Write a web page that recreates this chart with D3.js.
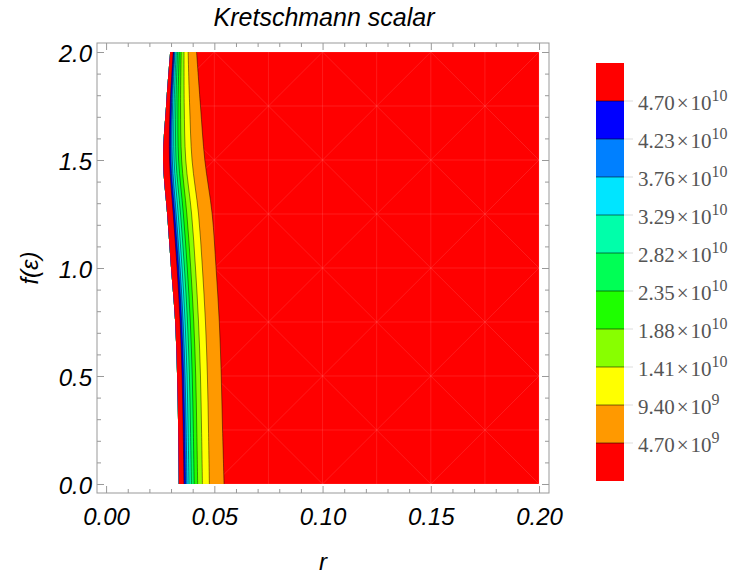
<!DOCTYPE html>
<html>
<head>
<meta charset="utf-8">
<script src="https://cdn.jsdelivr.net/npm/d3@7"></script>
<style>
body { margin: 0; background: #fff; }
svg { font-family: "Liberation Sans", Arial, sans-serif; }
</style>
</head>
<body>
<svg id="chart" width="750" height="580"></svg>
<script>
const fSamples = [0, 0.25, 0.5, 0.75, 1.0, 1.25, 1.5, 1.75, 2.0];

// left edge of the computed region (white to the left of it)
const edgeR = [0.0336, 0.0333, 0.0328, 0.0319, 0.0300, 0.0282, 0.0263, 0.0277, 0.0296];

// r position of each contour line, one array per level
const rLevel1  = [0.0545, 0.0538, 0.0532, 0.0523, 0.0508, 0.0490, 0.0456, 0.0436, 0.0418]; // 4.70e9
const rLevel2  = [0.0477, 0.0473, 0.0468, 0.0459, 0.0445, 0.0427, 0.0397, 0.0386, 0.0379]; // 9.40e9
const rLevel3  = [0.0445, 0.0441, 0.0436, 0.0427, 0.0413, 0.0395, 0.0368, 0.0361, 0.0360]; // 1.41e10
const rLevel4  = [0.0423, 0.0419, 0.0414, 0.0405, 0.0391, 0.0373, 0.0349, 0.0344, 0.0347]; // 1.88e10
const rLevel5  = [0.0407, 0.0403, 0.0398, 0.0389, 0.0375, 0.0357, 0.0335, 0.0332, 0.0338]; // 2.35e10
const rLevel6  = [0.0394, 0.0390, 0.0385, 0.0376, 0.0362, 0.0344, 0.0323, 0.0322, 0.0330]; // 2.82e10
const rLevel7  = [0.0383, 0.0379, 0.0374, 0.0365, 0.0351, 0.0333, 0.0314, 0.0314, 0.0324]; // 3.29e10
const rLevel8  = [0.0374, 0.0370, 0.0365, 0.0356, 0.0342, 0.0324, 0.0306, 0.0307, 0.0318]; // 3.76e10
const rLevel9  = [0.0367, 0.0363, 0.0358, 0.0349, 0.0335, 0.0317, 0.0299, 0.0302, 0.0314]; // 4.23e10
const rLevel10 = [0.0360, 0.0356, 0.0351, 0.0342, 0.0328, 0.0310, 0.0293, 0.0296, 0.0310]; // 4.70e10

const rMax = 0.2;

const levelValues = [4.70e9, 9.40e9, 1.41e10, 1.88e10, 2.35e10, 2.82e10, 3.29e10, 3.76e10, 4.23e10, 4.70e10];

// lowest band first
const bandColors = ["#ff0000", "#ff9900", "#ffff00", "#88ff00", "#1eff00", "#00ff55",
                    "#00ffaa", "#00e5ff", "#0080ff", "#0000ff", "#ff0000"];

const xTicks = [0, 0.05, 0.10, 0.15, 0.20];
const yTicks = [0, 0.5, 1.0, 1.5, 2.0];

const svg = d3.select("#chart");

const x = d3.scaleLinear().domain([-0.0042, 0.2046]).range([97, 549]);
const y = d3.scaleLinear().domain([-0.0417, 2.0417]).range([493, 43]);

const levels = [rLevel1, rLevel2, rLevel3, rLevel4, rLevel5, rLevel6, rLevel7, rLevel8, rLevel9, rLevel10];

// bands: paint from edge to each boundary, outermost first
const area = d3.area()
  .curve(d3.curveCatmullRom)
  .y((d, i) => y(fSamples[i]))
  .x0((d, i) => x(edgeR[i]))
  .x1(d => x(d));

const rights = [fSamples.map(() => rMax)].concat(levels);

const plot = svg.append("g");
plot.selectAll("path.band")
  .data(rights)
  .enter()
  .append("path")
  .attr("class", "band")
  .attr("d", d => area(d))
  .attr("fill", (d, i) => bandColors[i]);

// faint mesh on the big red region
const defs = svg.append("defs");
defs.append("clipPath").attr("id", "outer")
  .append("path")
  .attr("d", d3.area()
    .curve(d3.curveCatmullRom)
    .y((d, i) => y(fSamples[i]))
    .x0(d => x(d))
    .x1(() => x(rMax))(rLevel1));

const mesh = plot.append("g").attr("clip-path", "url(#outer)")
  .attr("stroke", "#fff").attr("stroke-opacity", 0.14).attr("stroke-width", 0.8);
const meshR = d3.range(0, 9).map(i => 0.025 * i);
const meshF = d3.range(0, 9).map(i => 0.25 * i);
meshR.forEach(r => mesh.append("line")
  .attr("x1", x(r)).attr("x2", x(r)).attr("y1", y(0)).attr("y2", y(2)));
meshF.forEach(f => mesh.append("line")
  .attr("x1", x(0)).attr("x2", x(rMax)).attr("y1", y(f)).attr("y2", y(f)));
meshR.slice(0, -1).forEach((r, i) => meshF.slice(0, -1).forEach((f, j) => {
  const up = (i + j) % 2 === 0;
  mesh.append("line")
    .attr("x1", x(r)).attr("y1", y(up ? f : f + 0.25))
    .attr("x2", x(r + 0.025)).attr("y2", y(up ? f + 0.25 : f));
}));

// contour lines
const line = d3.line()
  .curve(d3.curveCatmullRom)
  .y((d, i) => y(fSamples[i]))
  .x(d => x(d));

plot.selectAll("path.contour")
  .data(levels)
  .enter()
  .append("path")
  .attr("class", "contour")
  .attr("d", d => line(d))
  .attr("fill", "none")
  .attr("stroke", "#000")
  .attr("stroke-opacity", 0.45)
  .attr("stroke-width", 1);

// frame + ticks
const frameColor = "#999";
svg.append("rect")
  .attr("x", 97).attr("y", 43).attr("width", 452).attr("height", 450)
  .attr("fill", "none").attr("stroke", frameColor);

const xMinor = d3.range(0, 21).map(i => i * 0.01).filter(v => !xTicks.some(t => Math.abs(t - v) < 1e-9));
const yMinor = d3.range(0, 21).map(i => i * 0.1).filter(v => !yTicks.some(t => Math.abs(t - v) < 1e-9));

function styleAxis(g) {
  g.select(".domain").remove();
  g.selectAll("line").attr("stroke", frameColor);
}

const tickFont = 24;

svg.append("g").attr("transform", "translate(0,493)")
  .call(d3.axisBottom(x).tickValues(xTicks).tickSizeInner(-7).tickSizeOuter(0).tickFormat(d3.format(".2f")))
  .call(styleAxis)
  .call(g => g.selectAll("text")
    .attr("y", 32).attr("dy", 0)
    .attr("font-size", tickFont).attr("font-style", "italic")
    .attr("font-family", "Liberation Sans, Arial, sans-serif").attr("fill", "#000"));
svg.append("g").attr("transform", "translate(0,493)")
  .call(d3.axisBottom(x).tickValues(xMinor).tickSizeInner(-4).tickSizeOuter(0).tickFormat(""))
  .call(styleAxis);
svg.append("g").attr("transform", "translate(0,43)")
  .call(d3.axisTop(x).tickValues(xTicks).tickSizeInner(-7).tickSizeOuter(0).tickFormat(""))
  .call(styleAxis);
svg.append("g").attr("transform", "translate(0,43)")
  .call(d3.axisTop(x).tickValues(xMinor).tickSizeInner(-4).tickSizeOuter(0).tickFormat(""))
  .call(styleAxis);

svg.append("g").attr("transform", "translate(97,0)")
  .call(d3.axisLeft(y).tickValues(yTicks).tickSizeInner(-7).tickSizeOuter(0).tickFormat(d3.format(".1f")))
  .call(styleAxis)
  .call(g => g.selectAll("text")
    .attr("x", -5).attr("dy", "0.38em")
    .attr("font-size", tickFont).attr("font-style", "italic")
    .attr("font-family", "Liberation Sans, Arial, sans-serif").attr("fill", "#000"));
svg.append("g").attr("transform", "translate(97,0)")
  .call(d3.axisLeft(y).tickValues(yMinor).tickSizeInner(-4).tickSizeOuter(0).tickFormat(""))
  .call(styleAxis);
svg.append("g").attr("transform", "translate(549,0)")
  .call(d3.axisRight(y).tickValues(yTicks).tickSizeInner(-7).tickSizeOuter(0).tickFormat(""))
  .call(styleAxis);
svg.append("g").attr("transform", "translate(549,0)")
  .call(d3.axisRight(y).tickValues(yMinor).tickSizeInner(-4).tickSizeOuter(0).tickFormat(""))
  .call(styleAxis);

// titles
svg.append("text")
  .attr("x", 324).attr("y", 26)
  .attr("text-anchor", "middle")
  .attr("font-size", 25).attr("font-style", "italic")
  .text("Kretschmann scalar");

svg.append("text")
  .attr("x", 323).attr("y", 570)
  .attr("text-anchor", "middle")
  .attr("font-size", 24).attr("font-style", "italic")
  .text("r");

svg.append("text")
  .attr("transform", "translate(38,268) rotate(-90)")
  .attr("text-anchor", "middle")
  .attr("font-size", 24).attr("font-style", "italic")
  .text("f(ε)");

// legend
const ly = d3.scaleLinear().domain([0, bandColors.length]).range([481, 63]);
const legend = svg.append("g");
legend.selectAll("rect")
  .data(bandColors)
  .enter()
  .append("rect")
  .attr("x", 596).attr("width", 28)
  .attr("y", (d, i) => ly(i + 1))
  .attr("height", (d, i) => ly(i) - ly(i + 1))
  .attr("fill", d => d);

legend.selectAll("line.sep")
  .data(levelValues)
  .enter()
  .append("line")
  .attr("class", "sep")
  .attr("x1", 596).attr("x2", 624)
  .attr("y1", (d, i) => ly(i + 1)).attr("y2", (d, i) => ly(i + 1))
  .attr("stroke", "#000").attr("stroke-opacity", 0.45).attr("stroke-width", 1.2);

legend.selectAll("line.tick")
  .data(levelValues)
  .enter()
  .append("line")
  .attr("class", "tick")
  .attr("x1", 624).attr("x2", 633)
  .attr("y1", (d, i) => ly(i + 1)).attr("y2", (d, i) => ly(i + 1))
  .attr("stroke", "#ddd");

const labels = legend.selectAll("text")
  .data(levelValues)
  .enter()
  .append("text")
  .attr("x", 638)
  .attr("y", (d, i) => ly(i + 1) + 9)
  .attr("font-family", "Liberation Serif, 'Times New Roman', serif")
  .attr("font-size", 21)
  .attr("fill", "#555");
labels.append("tspan")
  .text(d => {
    const e = Math.floor(Math.log10(d));
    return (d / Math.pow(10, e)).toFixed(2);
  });
labels.append("tspan").attr("dx", 2).text("\u00d7");
labels.append("tspan").attr("dx", 2).text("10");
labels.append("tspan")
  .attr("dy", -9)
  .attr("font-size", 16)
  .text(d => Math.floor(Math.log10(d)));
</script>
</body>
</html>
